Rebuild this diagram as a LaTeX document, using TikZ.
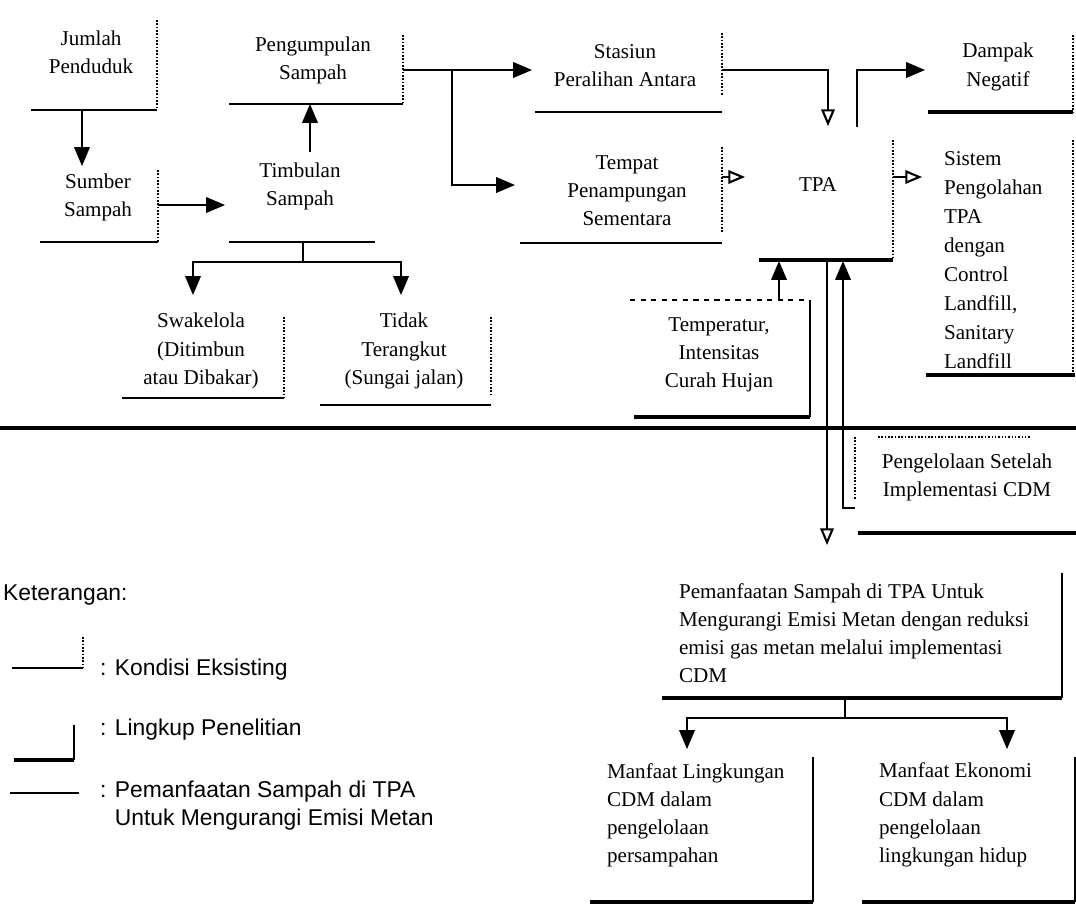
\documentclass[tikz,border=0pt]{standalone}
\usepackage{fontspec}
\setmainfont{Liberation Serif}
\newfontfamily\legendfont{Liberation Sans}
\usetikzlibrary{arrows}

\begin{document}
\begin{tikzpicture}[x=0.02cm,y=-0.02cm]
\tikzstyle{every node}=[inner sep=1pt, font=\fontsize{12}{16}\selectfont]
\tikzstyle{box}=[align=center]
\tikzstyle{lbox}=[align=left, anchor=west]
\tikzstyle{legend}=[anchor=west, align=left, font=\legendfont\fontsize{13}{16}\selectfont]
\tikzstyle{thinline}=[line width=0.9pt]
\tikzstyle{heavy}=[line width=1.8pt]
\tikzstyle{dots}=[line width=0.9pt, densely dotted]
\tikzstyle{arr}=[line width=1.5pt, -triangle 45]
\tikzstyle{oarr}=[line width=1.2pt, -open triangle 45]
\useasboundingbox (0,0) rectangle (1076,913);

\node (jumlah) at (91,52) [box] {Jumlah\\Penduduk};
\node (sumber) at (98,197) [box] {Sumber\\Sampah};
\node (pengumpulan) at (313,60) [box] {Pengumpulan\\Sampah};
\node (timbulan) at (300,186) [box] {Timbulan\\Sampah};
\node (stasiun) at (625,66) [box] {Stasiun\\Peralihan Antara};
\node (tempat) at (627,191) [box] {Tempat\\Penampungan\\Sementara};
\node (tpa) at (818,185) [box] {TPA};
\node (dampak) at (998,67) [box] {Dampak\\Negatif};
\node (sistem) at (942,260) [lbox, font=\fontsize{12}{16.5}\selectfont] {Sistem\\Pengolahan\\TPA\\dengan\\Control\\Landfill,\\Sanitary\\Landfill};
\node (swakelola) at (201,351) [box] {Swakelola\\(Ditimbun\\atau Dibakar)};
\node (tidak) at (404,351) [box] {Tidak\\Terangkut\\(Sungai jalan)};
\node (temperatur) at (719,355) [box] {Temperatur,\\Intensitas\\Curah Hujan};
\node (pengelolaan) at (967,477) [box] {Pengelolaan Setelah\\Implementasi CDM};
\node (pemanfaatan) at (677,633) [lbox] {Pemanfaatan Sampah di TPA Untuk\\Mengurangi Emisi Metan dengan reduksi\\emisi gas metan melalui implementasi\\CDM};
\node (lingkungan) at (605,815) [lbox] {Manfaat Lingkungan\\CDM dalam\\pengelolaan\\persampahan};
\node (ekonomi) at (877,815) [lbox] {Manfaat Ekonomi\\CDM dalam\\pengelolaan\\lingkungan hidup};

\coordinate (jumlah-b) at (82,110);
\coordinate (sumber-t) at (82,166);
\coordinate (sumber-r) at (158,205);
\coordinate (timbulan-l) at (225,205);
\coordinate (timbulan-t) at (310,152);
\coordinate (pengumpulan-b) at (310,104);
\coordinate (pengumpulan-r) at (403,70);
\coordinate (stasiun-l) at (532,70);
\coordinate (tempat-l) at (515,185);
\coordinate (stasiun-r) at (722,70);
\coordinate (tpa-t) at (828,126);
\coordinate (tempat-r) at (722,177);
\coordinate (tpa-l) at (745,177);
\coordinate (tpa-u) at (857,127);
\coordinate (dampak-l) at (925,70);
\coordinate (tpa-r) at (893,177);
\coordinate (sistem-l) at (922,177);
\coordinate (timbulan-b) at (303,242);
\coordinate (swakelola-t) at (193,295);
\coordinate (tidak-t) at (401,295);
\coordinate (temperatur-t) at (779,300);
\coordinate (tpa-b) at (779,261);
\coordinate (tpa-d) at (827,261);
\coordinate (pemanfaatan-t) at (827,545);
\coordinate (pengelolaan-l) at (855,508);
\coordinate (tpa-e) at (843,261);
\coordinate (pemanfaatan-b) at (845,698);
\coordinate (lingkungan-t) at (687,749);
\coordinate (ekonomi-t) at (1007,749);

\draw[thinline] (31,110) -- (157,110);
\draw[dots] (157,20) -- (157,110);
\draw[thinline] (40,242) -- (158,242);
\draw[dots] (158,170) -- (158,242);
\draw[thinline] (229,104) -- (403,104);
\draw[dots] (403,35) -- (403,104);
\draw[thinline] (229,242) -- (375,242);
\draw[thinline] (535,112) -- (722,112);
\draw[dots] (722,33) -- (722,95);
\draw[thinline] (520,243) -- (722,243);
\draw[dots] (722,147) -- (722,232);
\draw[heavy] (759,260) -- (893,260);
\draw[dots] (893,140) -- (893,260);
\draw[heavy] (928,112) -- (1073,112);
\draw[dots] (1073,35) -- (1073,112);
\draw[heavy] (926,375) -- (1075,375);
\draw[dots] (1073,140) -- (1073,375);
\draw[thinline] (122,398) -- (284,398);
\draw[dots] (284,317) -- (284,398);
\draw[thinline] (320,405) -- (491,405);
\draw[dots] (491,317) -- (491,395);
\draw[thinline, dashed] (630,300) -- (809,300);
\draw[thinline] (810,300) -- (810,417);
\draw[heavy] (634,417) -- (810,417);
\draw[heavy] (0,428) -- (1076,428);
\draw[dots] (878,437) -- (1030,437);
\draw[dots] (855,437) -- (855,500);
\draw[heavy] (858,533) -- (1076,533);
\draw[thinline] (1062,573) -- (1062,698);
\draw[heavy] (662,698) -- (1062,698);
\draw[thinline] (813,757) -- (813,902);
\draw[heavy] (590,902) -- (813,902);
\draw[thinline] (1075,757) -- (1075,902);
\draw[heavy] (862,902) -- (1075,902);

\draw[arr] (jumlah-b) -- (sumber-t);
\draw[arr] (sumber-r) -- (timbulan-l);
\draw[arr] (timbulan-t) -- (pengumpulan-b);
\draw[arr] (pengumpulan-r) -- (stasiun-l);
\draw[arr] (452,70) |- (tempat-l);
\draw[oarr] (stasiun-r) -| (tpa-t);
\draw[oarr] (tempat-r) -- (tpa-l);
\draw[arr] (tpa-u) |- (dampak-l);
\draw[oarr] (tpa-r) -- (sistem-l);
\draw[line width=1.3pt] (timbulan-b) -- (303,262);
\draw[arr] (303,262) -| (swakelola-t);
\draw[arr] (303,262) -| (tidak-t);
\draw[arr] (temperatur-t) -- (tpa-b);
\draw[oarr] (tpa-d) -- (pemanfaatan-t);
\draw[arr] (pengelolaan-l) -| (tpa-e);
\draw[line width=1.3pt] (pemanfaatan-b) -- (845,718);
\draw[arr] (845,718) -| (lingkungan-t);
\draw[arr] (845,718) -| (ekonomi-t);

\node (ket) at (1,595) [legend] {Keterangan:};
\draw[thinline] (12,668) -- (83,668);
\draw[dots] (83,637) -- (83,668);
\node (kondisi) at (98,670) [legend] {: Kondisi Eksisting};
\draw[thinline] (74,725) -- (74,760);
\draw[heavy] (14,760) -- (74,760);
\node (lingkup) at (98,730) [legend] {: Lingkup Penelitian};
\draw[thinline] (10,793) -- (79,793);
\node (manfaat) at (98,806) [legend] {: Pemanfaatan Sampah di TPA\\\phantom{: }Untuk Mengurangi Emisi Metan};
\end{tikzpicture}
\end{document}
